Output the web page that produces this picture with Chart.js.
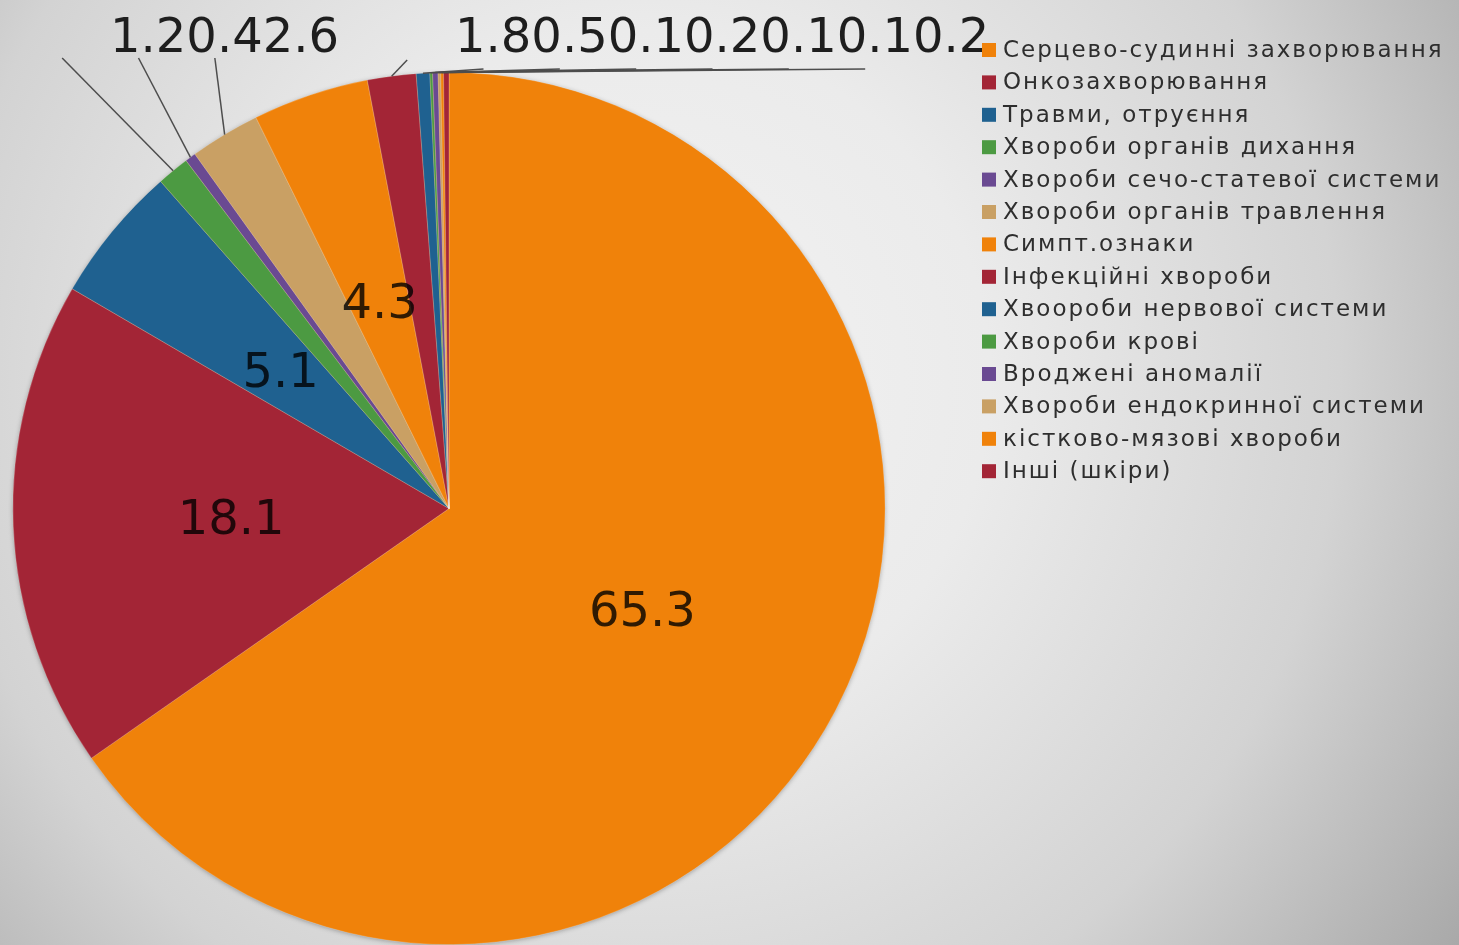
<!DOCTYPE html>
<html>
<head>
<meta charset="utf-8">
<script src="https://cdn.jsdelivr.net/npm/chart.js@4"></script>
<style>
  html, body { margin: 0; padding: 0; background: #e6e6e6; }
  #wrap { width: 1459px; height: 945px; position: relative; }
</style>
</head>
<body>
<div id="wrap"><canvas id="chart" width="1459" height="945"></canvas></div>
<script>
// ── data ─────────────────────────────────────────────
const categories = [
  'Серцево-судинні захворювання',
  'Онкозахворювання',
  'Травми, отруєння',
  'Хвороби органів дихання',
  'Хвороби сечо-статевої системи',
  'Хвороби органів травлення',
  'Симпт.ознаки',
  'Інфекційні хвороби',
  'Хвоороби нервової системи',
  'Хвороби крові',
  'Вроджені аномалії',
  'Хвороби ендокринної системи',
  'кістково-мязові хвороби',
  'Інші (шкіри)',
];
const shares = [65.3, 18.1, 5.1, 1.2, 0.4, 2.6, 4.3, 1.8, 0.5, 0.1, 0.2, 0.1, 0.1, 0.2];

const PALETTE = ['#f0820a', '#a32536', '#1f6190', '#4c9a42', '#6a4a92', '#c9a064'];
const sliceColors = categories.map((_, i) => PALETTE[i % PALETTE.length]);

const FONT = '"DejaVu Sans", Verdana, sans-serif';

// ── background: soft grey radial wash ───────────────
const bgPlugin = {
  id: 'bg',
  beforeDraw(chart) {
    const { ctx, width, height } = chart;
    const g = ctx.createRadialGradient(640, 380, 0, 640, 380, 1000);
    g.addColorStop(0, '#f3f3f3');
    g.addColorStop(0.35, '#ebebeb');
    g.addColorStop(0.7, '#d3d3d3');
    g.addColorStop(1, '#a8a8a8');
    ctx.save();
    ctx.fillStyle = g;
    ctx.fillRect(0, 0, width, height);
    ctx.restore();
  },
  beforeDatasetsDraw(chart) {
    // faint drop shadow under the whole pie
    const arc = chart.getDatasetMeta(0).data[0];
    if (!arc) return;
    const { x, y, outerRadius } = arc.getProps(['x', 'y', 'outerRadius'], true);
    const { ctx } = chart;
    ctx.save();
    ctx.shadowColor = 'rgba(0,0,0,0.35)';
    ctx.shadowBlur = 5;
    ctx.shadowOffsetY = 1;
    ctx.fillStyle = PALETTE[0];
    ctx.beginPath();
    ctx.arc(x, y, outerRadius - 0.5, 0, Math.PI * 2);
    ctx.fill();
    ctx.restore();
  },
};

// ── value labels (inside for big slices, leader lines for small) ──
const labelPlugin = {
  id: 'valueLabels',
  afterDatasetsDraw(chart) {
    const { ctx } = chart;
    const arcs = chart.getDatasetMeta(0).data;
    const left = [], right = [];
    ctx.save();
    ctx.font = `48px ${FONT}`;
    arcs.forEach((a, i) => {
      const p = a.getProps(['x', 'y', 'startAngle', 'endAngle', 'outerRadius'], true);
      const mid = (p.startAngle + p.endAngle) / 2;
      const txt = shares[i].toFixed(1);
      if (shares[i] >= 4) {
        const r = p.outerRadius * 0.5;
        ctx.fillStyle = 'rgba(0,0,0,0.8)';
        ctx.textAlign = 'center';
        ctx.textBaseline = 'middle';
        ctx.fillText(txt, p.x + Math.cos(mid) * r, p.y + Math.sin(mid) * r + 4);
      } else {
        const ex = p.x + Math.cos(mid) * p.outerRadius;
        const ey = p.y + Math.sin(mid) * p.outerRadius;
        (ex < p.x - 100 ? left : right).push({ txt, ex, ey });
      }
    });

    const drawGroup = (items, startX, baseY, lineY) => {
      let x = startX;
      ctx.textAlign = 'left';
      ctx.textBaseline = 'alphabetic';
      items.forEach((it, k) => {
        const w = ctx.measureText(it.txt).width;
        const cx = x + w / 2;
        ctx.strokeStyle = '#4d4d4d';
        ctx.lineWidth = 1.5;
        ctx.beginPath();
        ctx.moveTo(it.ex, it.ey);
        ctx.lineTo(cx - 86, lineY(k));
        ctx.stroke();
        ctx.fillStyle = '#1e1e1e';
        ctx.fillText(it.txt, x, baseY);
        x += w;
      });
    };
    drawGroup(left, 110, 52, () => 58);
    drawGroup(right, 455, 52, k => (k === 0 ? 60 : 69));
    ctx.restore();
  },
};

// ── legend on the right ─────────────────────────────
const legendPlugin = {
  id: 'sideLegend',
  afterDraw(chart) {
    const { ctx } = chart;
    ctx.save();
    ctx.font = `23px ${FONT}`;
    ctx.letterSpacing = '2px';
    ctx.textBaseline = 'middle';
    ctx.textAlign = 'left';
    categories.forEach((name, i) => {
      const y = 50 + i * 32.4;
      ctx.fillStyle = sliceColors[i];
      ctx.fillRect(982, y - 7, 14, 14);
      ctx.fillStyle = '#2e2e2e';
      ctx.fillText(name, 1003, y + 1);
    });
    ctx.restore();
  },
};

new Chart(document.getElementById('chart'), {
  type: 'pie',
  data: {
    labels: categories,
    datasets: [{
      data: shares,
      backgroundColor: sliceColors,
      borderColor: 'rgba(255,255,255,0.25)',
      borderWidth: 0.8,
    }],
  },
  options: {
    responsive: false,
    animation: false,
    layout: { padding: { left: 12, right: 573, top: 72, bottom: 0 } },
    plugins: {
      legend: { display: false },
      tooltip: { enabled: false },
    },
  },
  plugins: [bgPlugin, labelPlugin, legendPlugin],
});
</script>
</body>
</html>
